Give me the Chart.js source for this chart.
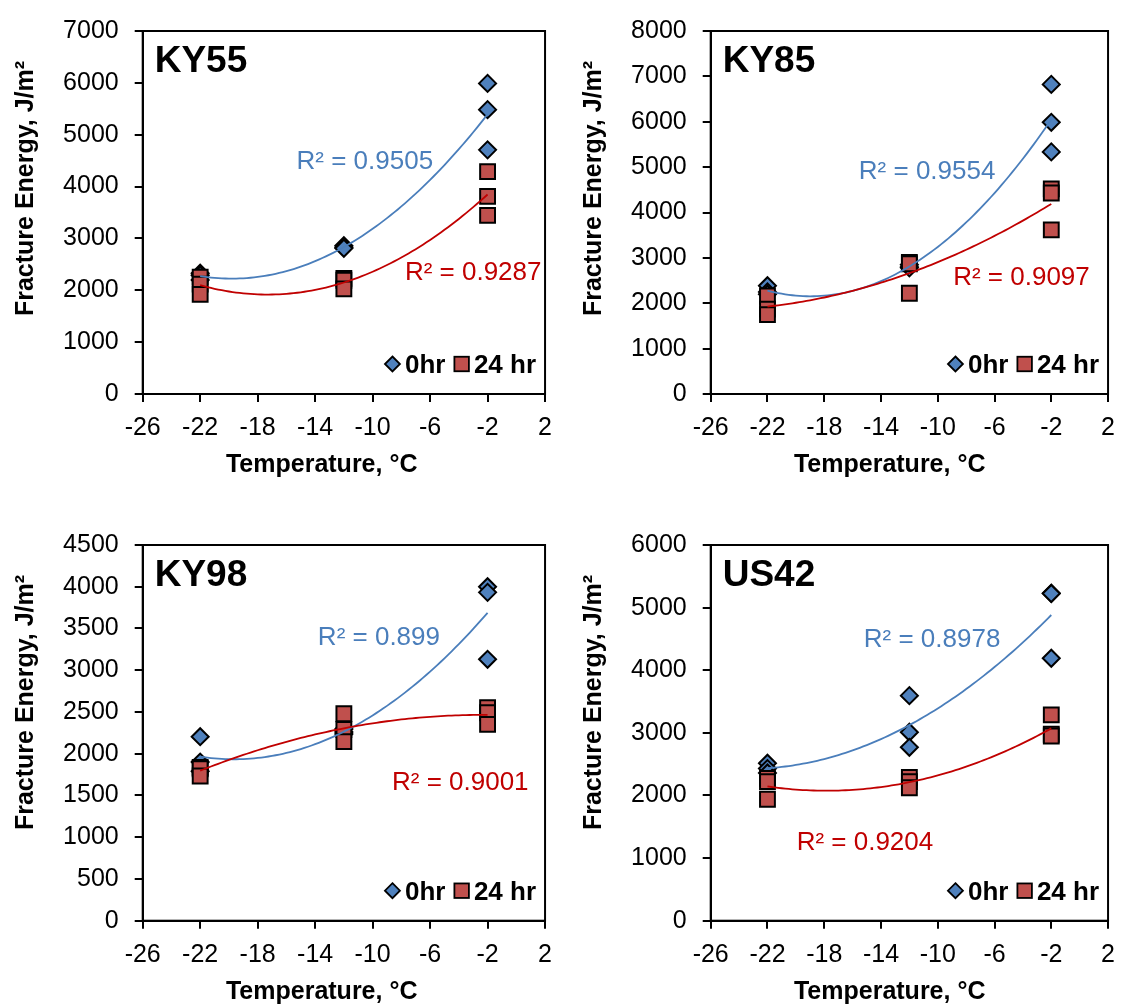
<!DOCTYPE html>
<html lang="en">
<head>
<meta charset="UTF-8">
<title>Fracture Energy vs Temperature</title>
<script src="https://cdn.jsdelivr.net/npm/chart.js"></script>
<style>
  body { margin: 0; background: #fff; }
  #wrap { position: relative; width: 1126px; height: 1008px; }
  .panel { position: absolute; width: 563px; height: 504px; }
</style>
</head>
<body>
<div id="wrap">
  <div class="panel" style="left:0;top:0"><canvas id="c0" width="563" height="504"></canvas></div>
  <div class="panel" style="left:563px;top:0"><canvas id="c1" width="563" height="504"></canvas></div>
  <div class="panel" style="left:0;top:504px"><canvas id="c2" width="563" height="504"></canvas></div>
  <div class="panel" style="left:563px;top:504px"><canvas id="c3" width="563" height="504"></canvas></div>
</div>
<script>
// test temperatures (3 replicates each)
var temps = [-22, -22, -22, -12, -12, -12, -2, -2, -2];

// fracture energy, J/m2
var ky55_0hr  = [2330, 2290, 2200, 2860, 2830, 2810, 5990, 5483, 4708];
var ky55_24hr = [2255, 2119, 1920, 2231, 2193, 2026, 4288, 3810, 3444];
var ky85_0hr  = [2385, 2250, 2200, 2850, 2800, 2780, 6823, 5988, 5336];
var ky85_24hr = [2160, 1870, 1750, 2900, 2870, 2220, 4522, 4430, 3616];
var ky98_0hr  = [2204, 1900, 1790, 2296, 2260, 2236, 4000, 3933, 3131];
var ky98_24hr = [1837, 1820, 1733, 2479, 2290, 2144, 2551, 2491, 2352];
var us42_0hr  = [2514, 2430, 2360, 3594, 3009, 2769, 5230, 5225, 4191];
var us42_24hr = [2274, 2220, 1939, 2290, 2220, 2124, 3286, 2977, 2950];

var mixNames = ['KY55', 'KY85', 'KY98', 'US42'];
var yMax = [7000, 8000, 4500, 6000];
var yStep = [1000, 1000, 500, 1000];
var xMin = -26, xMax = 2, xStep = 4;
var r2_0hr = ['0.9505', '0.9554', '0.899', '0.8978'];
var r2_24hr = ['0.9287', '0.9097', '0.9001', '0.9204'];

// where the R² labels sit, in axis units [temp, energy]
var r2Where0hr = [[-10.54, 4475], [-10.75, 4890], [-9.56, 3390], [-10.4, 4487]];
var r2Where24hr = [[-3.0, 2337], [-4.1, 2563], [-3.9, 1646], [-15.13, 1241]];

var FONT = "'Liberation Sans', Arial, sans-serif";
var BLUE = '#4F81BD', RED = '#C0504D';
var BLUE_LINE = '#4A7EBB', RED_LINE = '#C00000';

Chart.defaults.font.family = FONT;
Chart.defaults.color = '#000';

// least squares y = a + b x + c x^2
function fitQuad(xs, ys) {
  var s = [0, 0, 0, 0, 0], t = [0, 0, 0];
  for (var i = 0; i < xs.length; i++) {
    var p = 1;
    for (var k = 0; k < 5; k++) {
      s[k] += p;
      if (k < 3) t[k] += p * ys[i];
      p *= xs[i];
    }
  }
  var m = [[s[0], s[1], s[2]], [s[1], s[2], s[3]], [s[2], s[3], s[4]]];
  function det(a) {
    return a[0][0] * (a[1][1] * a[2][2] - a[1][2] * a[2][1])
         - a[0][1] * (a[1][0] * a[2][2] - a[1][2] * a[2][0])
         + a[0][2] * (a[1][0] * a[2][1] - a[1][1] * a[2][0]);
  }
  var d = det(m), out = [];
  for (var c = 0; c < 3; c++) {
    var mc = m.map(function (row, r) { var q = row.slice(); q[c] = t[r]; return q; });
    out.push(det(mc) / d);
  }
  return out;
}

function points(ys) {
  return temps.map(function (x, i) { return { x: x, y: ys[i] }; });
}

function trend(ys) {
  var k = fitQuad(temps, ys), pts = [];
  for (var x = -22; x <= -2.0001 + 0.25; x += 0.25) {
    var xx = Math.min(x, -2);
    pts.push({ x: xx, y: k[0] + k[1] * xx + k[2] * xx * xx });
  }
  return pts;
}

var decor = {
  id: 'decor',
  afterDraw: function (chart) {
    var o = chart.options.plugins.decor;
    var ctx = chart.ctx, a = chart.chartArea;
    var sx = chart.scales.x, sy = chart.scales.y;
    ctx.save();
    ctx.strokeStyle = '#000';
    ctx.lineWidth = 2;
    ctx.strokeRect(a.left, a.top, a.right - a.left, a.bottom - a.top);

    ctx.fillStyle = '#000';
    ctx.font = 'bold 37px ' + FONT;
    ctx.textAlign = 'left';
    ctx.textBaseline = 'alphabetic';
    ctx.fillText(o.name, a.left + 12, a.top + 41);

    ctx.font = '26px ' + FONT;
    ctx.textAlign = 'center';
    ctx.textBaseline = 'middle';
    ctx.fillStyle = BLUE_LINE;
    ctx.fillText('R² = ' + o.r0, sx.getPixelForValue(o.p0[0]), sy.getPixelForValue(o.p0[1]));
    ctx.fillStyle = RED_LINE;
    ctx.fillText('R² = ' + o.r24, sx.getPixelForValue(o.p24[0]), sy.getPixelForValue(o.p24[1]));

    // legend, bottom right inside the plot
    ctx.font = 'bold 26px ' + FONT;
    ctx.textAlign = 'left';
    ctx.textBaseline = 'alphabetic';
    ctx.fillStyle = '#000';
    var base = a.bottom - 21, my = a.bottom - 30;
    var w2 = ctx.measureText('24 hr').width, w1 = ctx.measureText('0hr').width;
    var t2 = a.right - 9 - w2;
    ctx.fillText('24 hr', t2, base);
    var sqR = t2 - 5, sq = 14.5;
    var t1 = sqR - sq - 9 - w1;
    ctx.fillText('0hr', t1, base);
    ctx.lineWidth = 1.8;
    ctx.fillStyle = RED;
    ctx.fillRect(sqR - sq, my - sq / 2, sq, sq);
    ctx.strokeRect(sqR - sq, my - sq / 2, sq, sq);
    var dc = t1 - 5 - 7.5;
    ctx.beginPath();
    ctx.moveTo(dc, my - 7.5);
    ctx.lineTo(dc + 7.5, my);
    ctx.lineTo(dc, my + 7.5);
    ctx.lineTo(dc - 7.5, my);
    ctx.closePath();
    ctx.fillStyle = BLUE;
    ctx.fill();
    ctx.stroke();

    // axis titles
    ctx.fillStyle = '#000';
    ctx.font = 'bold 25px ' + FONT;
    ctx.textAlign = 'center';
    ctx.fillText('Temperature, °C', a.left + 179, a.bottom + 78);
    ctx.translate(a.left - 109.5, a.top + 157.5);
    ctx.rotate(-Math.PI / 2);
    ctx.fillText('Fracture Energy, J/m²', 0, 0);
    ctx.restore();
  }
};

function plain(v) { return String(v); }

function makeChart(i, zero, day, box) {
  new Chart(document.getElementById('c' + i), {
    type: 'scatter',
    data: {
      datasets: [
        { label: '0hr', data: points(zero), pointStyle: 'rectRot', pointRadius: 8.5,
          backgroundColor: BLUE, pointBackgroundColor: BLUE, borderColor: '#000',
          pointBorderColor: '#000', pointBorderWidth: 2, order: 4 },
        { label: '24 hr', data: points(day), pointStyle: 'rect', pointRadius: 10.5,
          backgroundColor: RED, pointBackgroundColor: RED, borderColor: '#000',
          pointBorderColor: '#000', pointBorderWidth: 2, order: 3 },
        { label: 'trend 0hr', data: trend(zero), showLine: true, pointRadius: 0,
          borderColor: BLUE_LINE, borderWidth: 1.8, order: 2 },
        { label: 'trend 24 hr', data: trend(day), showLine: true, pointRadius: 0,
          borderColor: RED_LINE, borderWidth: 1.8, order: 1 }
      ]
    },
    options: {
      responsive: false,
      animation: false,
      events: [],
      layout: { padding: { top: box.top, right: box.right, bottom: 0, left: 0 } },
      plugins: {
        legend: { display: false },
        tooltip: { enabled: false },
        decor: { name: mixNames[i], r0: r2_0hr[i], r24: r2_24hr[i],
                 p0: r2Where0hr[i], p24: r2Where24hr[i] }
      },
      scales: {
        x: {
          type: 'linear', min: xMin, max: xMax,
          ticks: { stepSize: xStep, font: { size: 25 }, color: '#000', padding: 11, callback: plain },
          grid: { drawOnChartArea: false, color: '#000', tickLength: 8, lineWidth: 2 },
          border: { color: '#000', width: 2 },
          afterFit: function (s) { s.height = box.xh; }
        },
        y: {
          min: 0, max: yMax[i],
          ticks: { stepSize: yStep[i], font: { size: 25 }, color: '#000', padding: 16, callback: plain },
          grid: { drawOnChartArea: false, color: '#000', tickLength: 8, lineWidth: 2 },
          border: { color: '#000', width: 2 },
          afterFit: function (s) { s.width = box.yw; }
        }
      }
    },
    plugins: [decor]
  });
}

makeChart(0, ky55_0hr, ky55_24hr, { top: 17.5, right: 17, xh: 110, yw: 142.7 });
makeChart(1, ky85_0hr, ky85_24hr, { top: 17.3, right: 12, xh: 110, yw: 147.7 });
makeChart(2, ky98_0hr, ky98_24hr, { top: 41, right: 17, xh: 87.3, yw: 142.7 });
makeChart(3, us42_0hr, us42_24hr, { top: 41, right: 12, xh: 87.3, yw: 147.7 });
</script>
</body>
</html>
